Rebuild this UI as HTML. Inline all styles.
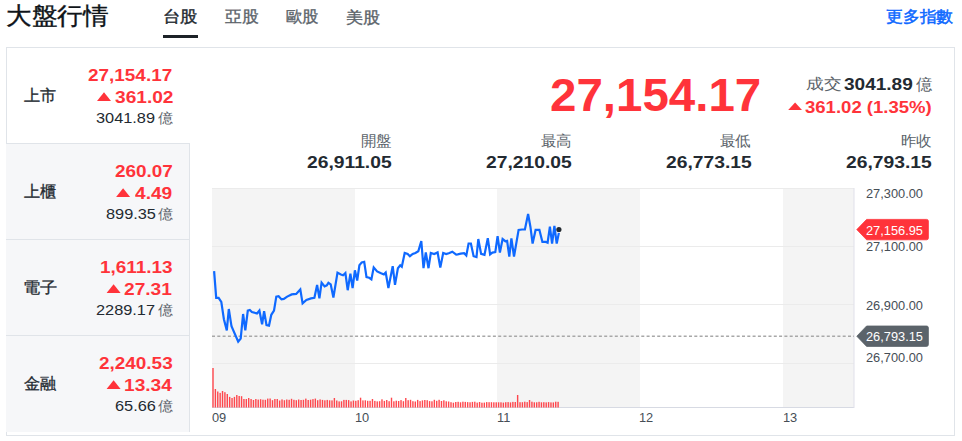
<!DOCTYPE html>
<html><head><meta charset="utf-8">
<style>
*{margin:0;padding:0;box-sizing:border-box}
html,body{width:962px;height:441px;background:#fff;overflow:hidden;font-family:"Liberation Sans",sans-serif;color:#232a31}
.t{position:absolute;white-space:nowrap;line-height:1;transform-origin:0 0}
.b{position:absolute}
</style></head><body>
<div class="b" style="left:163px;top:35px;width:35px;height:3px;background:#1d2228"></div>
<div class="b" style="left:6px;top:47px;width:949px;height:389px;border:1px solid #e0e4e9"></div>
<div class="b" style="left:6px;top:143px;width:184px;height:289px;background:#f6f7f9;border-top:1px solid #e0e4e9;border-right:1px solid #e0e4e9"></div>
<div class="b" style="left:6px;top:239px;width:183px;height:1px;background:#e0e4e9"></div>
<div class="b" style="left:6px;top:335px;width:183px;height:1px;background:#e0e4e9"></div>
<svg class="b" style="left:0;top:0" width="962" height="441" viewBox="0 0 962 441">
<g fill="#f4f4f4">
<rect x="212" y="188" width="143" height="219"/>
<rect x="497" y="188" width="143" height="219"/>
<rect x="783" y="188" width="71" height="219"/>
</g>
<g stroke="#ebebeb" stroke-width="1">
<line x1="212" y1="188.5" x2="854" y2="188.5"/>
<line x1="212" y1="246.5" x2="854" y2="246.5"/>
<line x1="212" y1="304.5" x2="854" y2="304.5"/>
<line x1="212" y1="363.5" x2="854" y2="363.5"/>
</g>
<line x1="212" y1="407.5" x2="854" y2="407.5" stroke="#d7dae3"/>
<line x1="854" y1="188" x2="854" y2="408" stroke="#e0e0ea"/>
<line x1="212" y1="336.2" x2="854" y2="336.2" stroke="#a8a8a8" stroke-width="1.4" stroke-dasharray="3,2.3"/>
<g fill="#ff333a" fill-opacity="0.9"><rect x="212.30" y="368.0" width="1.4" height="39.5"/><rect x="214.68" y="389.0" width="1.4" height="18.5"/><rect x="217.06" y="391.5" width="1.4" height="16.0"/><rect x="219.44" y="392.9" width="1.4" height="14.6"/><rect x="221.82" y="391.0" width="1.4" height="16.5"/><rect x="224.20" y="392.2" width="1.4" height="15.3"/><rect x="226.58" y="394.0" width="1.4" height="13.5"/><rect x="228.96" y="396.9" width="1.4" height="10.6"/><rect x="231.34" y="398.0" width="1.4" height="9.5"/><rect x="233.72" y="396.9" width="1.4" height="10.6"/><rect x="236.10" y="395.0" width="1.4" height="12.5"/><rect x="238.48" y="396.0" width="1.4" height="11.5"/><rect x="240.86" y="396.2" width="1.4" height="11.3"/><rect x="243.24" y="399.0" width="1.4" height="8.5"/><rect x="245.62" y="399.0" width="1.4" height="8.5"/><rect x="248.00" y="398.0" width="1.4" height="9.5"/><rect x="250.38" y="399.0" width="1.4" height="8.5"/><rect x="252.76" y="400.0" width="1.4" height="7.5"/><rect x="255.14" y="399.0" width="1.4" height="8.5"/><rect x="257.52" y="399.6" width="1.4" height="7.9"/><rect x="259.90" y="399.2" width="1.4" height="8.3"/><rect x="262.28" y="399.7" width="1.4" height="7.8"/><rect x="264.66" y="399.8" width="1.4" height="7.7"/><rect x="267.04" y="398.6" width="1.4" height="8.9"/><rect x="269.42" y="398.5" width="1.4" height="9.0"/><rect x="271.80" y="400.2" width="1.4" height="7.3"/><rect x="274.18" y="399.0" width="1.4" height="8.5"/><rect x="276.56" y="399.0" width="1.4" height="8.5"/><rect x="278.94" y="400.5" width="1.4" height="7.0"/><rect x="281.32" y="399.4" width="1.4" height="8.1"/><rect x="283.70" y="400.2" width="1.4" height="7.3"/><rect x="286.08" y="399.5" width="1.4" height="8.0"/><rect x="288.46" y="399.8" width="1.4" height="7.7"/><rect x="290.84" y="398.8" width="1.4" height="8.7"/><rect x="293.22" y="399.8" width="1.4" height="7.7"/><rect x="295.60" y="400.2" width="1.4" height="7.3"/><rect x="297.98" y="399.5" width="1.4" height="8.0"/><rect x="300.36" y="400.0" width="1.4" height="7.5"/><rect x="302.74" y="399.8" width="1.4" height="7.7"/><rect x="305.12" y="398.6" width="1.4" height="8.9"/><rect x="307.50" y="400.0" width="1.4" height="7.5"/><rect x="309.88" y="399.7" width="1.4" height="7.8"/><rect x="312.26" y="399.1" width="1.4" height="8.4"/><rect x="314.64" y="398.6" width="1.4" height="8.9"/><rect x="317.02" y="400.2" width="1.4" height="7.3"/><rect x="319.40" y="399.4" width="1.4" height="8.1"/><rect x="321.78" y="399.9" width="1.4" height="7.6"/><rect x="324.16" y="400.3" width="1.4" height="7.2"/><rect x="326.54" y="399.9" width="1.4" height="7.6"/><rect x="328.92" y="400.3" width="1.4" height="7.2"/><rect x="331.30" y="400.4" width="1.4" height="7.1"/><rect x="333.68" y="398.0" width="1.4" height="9.5"/><rect x="336.06" y="400.5" width="1.4" height="7.0"/><rect x="338.44" y="401.4" width="1.4" height="6.1"/><rect x="340.82" y="401.3" width="1.4" height="6.2"/><rect x="343.20" y="399.9" width="1.4" height="7.6"/><rect x="345.58" y="399.9" width="1.4" height="7.6"/><rect x="347.96" y="400.1" width="1.4" height="7.4"/><rect x="350.34" y="401.4" width="1.4" height="6.1"/><rect x="352.72" y="400.5" width="1.4" height="7.0"/><rect x="355.10" y="400.8" width="1.4" height="6.7"/><rect x="357.48" y="400.2" width="1.4" height="7.3"/><rect x="359.86" y="397.7" width="1.4" height="9.8"/><rect x="362.24" y="400.4" width="1.4" height="7.1"/><rect x="364.62" y="400.3" width="1.4" height="7.2"/><rect x="367.00" y="400.8" width="1.4" height="6.7"/><rect x="369.38" y="400.8" width="1.4" height="6.7"/><rect x="371.76" y="399.0" width="1.4" height="8.5"/><rect x="374.14" y="400.9" width="1.4" height="6.6"/><rect x="376.52" y="401.4" width="1.4" height="6.1"/><rect x="378.90" y="401.2" width="1.4" height="6.3"/><rect x="381.28" y="399.3" width="1.4" height="8.2"/><rect x="383.66" y="400.9" width="1.4" height="6.6"/><rect x="386.04" y="400.0" width="1.4" height="7.5"/><rect x="388.42" y="401.2" width="1.4" height="6.3"/><rect x="390.80" y="397.7" width="1.4" height="9.8"/><rect x="393.18" y="401.3" width="1.4" height="6.2"/><rect x="395.56" y="400.7" width="1.4" height="6.8"/><rect x="397.94" y="401.0" width="1.4" height="6.5"/><rect x="400.32" y="400.1" width="1.4" height="7.4"/><rect x="402.70" y="401.2" width="1.4" height="6.3"/><rect x="405.08" y="398.0" width="1.4" height="9.5"/><rect x="407.46" y="400.2" width="1.4" height="7.3"/><rect x="409.84" y="399.8" width="1.4" height="7.7"/><rect x="412.22" y="401.2" width="1.4" height="6.3"/><rect x="414.60" y="401.5" width="1.4" height="6.0"/><rect x="416.98" y="399.9" width="1.4" height="7.6"/><rect x="419.36" y="401.1" width="1.4" height="6.4"/><rect x="421.74" y="400.4" width="1.4" height="7.1"/><rect x="424.12" y="400.0" width="1.4" height="7.5"/><rect x="426.50" y="400.2" width="1.4" height="7.3"/><rect x="428.88" y="401.1" width="1.4" height="6.4"/><rect x="431.26" y="401.3" width="1.4" height="6.2"/><rect x="433.64" y="399.8" width="1.4" height="7.7"/><rect x="436.02" y="400.8" width="1.4" height="6.7"/><rect x="438.40" y="399.8" width="1.4" height="7.7"/><rect x="440.78" y="401.0" width="1.4" height="6.5"/><rect x="443.16" y="400.3" width="1.4" height="7.2"/><rect x="445.54" y="401.3" width="1.4" height="6.2"/><rect x="447.92" y="401.5" width="1.4" height="6.0"/><rect x="450.30" y="402.2" width="1.4" height="5.3"/><rect x="452.68" y="402.7" width="1.4" height="4.8"/><rect x="455.06" y="402.0" width="1.4" height="5.5"/><rect x="457.44" y="401.8" width="1.4" height="5.7"/><rect x="459.82" y="402.3" width="1.4" height="5.2"/><rect x="462.20" y="401.7" width="1.4" height="5.8"/><rect x="464.58" y="401.9" width="1.4" height="5.6"/><rect x="466.96" y="402.1" width="1.4" height="5.4"/><rect x="469.34" y="402.3" width="1.4" height="5.2"/><rect x="471.72" y="401.9" width="1.4" height="5.6"/><rect x="474.10" y="401.7" width="1.4" height="5.8"/><rect x="476.48" y="402.6" width="1.4" height="4.9"/><rect x="478.86" y="402.0" width="1.4" height="5.5"/><rect x="481.24" y="402.7" width="1.4" height="4.8"/><rect x="483.62" y="402.6" width="1.4" height="4.9"/><rect x="486.00" y="402.1" width="1.4" height="5.4"/><rect x="488.38" y="402.2" width="1.4" height="5.3"/><rect x="490.76" y="402.2" width="1.4" height="5.3"/><rect x="493.14" y="402.3" width="1.4" height="5.2"/><rect x="495.52" y="402.3" width="1.4" height="5.2"/><rect x="497.90" y="402.3" width="1.4" height="5.2"/><rect x="500.28" y="402.3" width="1.4" height="5.2"/><rect x="502.66" y="402.6" width="1.4" height="4.9"/><rect x="505.04" y="402.2" width="1.4" height="5.3"/><rect x="507.42" y="402.1" width="1.4" height="5.4"/><rect x="509.80" y="402.4" width="1.4" height="5.1"/><rect x="512.18" y="401.9" width="1.4" height="5.6"/><rect x="514.56" y="402.0" width="1.4" height="5.5"/><rect x="516.94" y="395.0" width="1.4" height="12.5"/><rect x="519.32" y="402.2" width="1.4" height="5.3"/><rect x="521.70" y="402.2" width="1.4" height="5.3"/><rect x="524.08" y="401.7" width="1.4" height="5.8"/><rect x="526.46" y="402.1" width="1.4" height="5.4"/><rect x="528.84" y="400.0" width="1.4" height="7.5"/><rect x="531.22" y="401.7" width="1.4" height="5.8"/><rect x="533.60" y="402.3" width="1.4" height="5.2"/><rect x="535.98" y="402.3" width="1.4" height="5.2"/><rect x="538.36" y="401.8" width="1.4" height="5.7"/><rect x="540.74" y="402.3" width="1.4" height="5.2"/><rect x="543.12" y="402.2" width="1.4" height="5.3"/><rect x="545.50" y="402.4" width="1.4" height="5.1"/><rect x="547.88" y="402.1" width="1.4" height="5.4"/><rect x="550.26" y="402.4" width="1.4" height="5.1"/><rect x="552.64" y="402.4" width="1.4" height="5.1"/><rect x="555.02" y="401.7" width="1.4" height="5.8"/><rect x="557.40" y="401.8" width="1.4" height="5.7"/></g>
<path d="M214.1,271.2 L216.2,297.8 L218.6,297.8 L221.3,301.8 L223.9,319.2 L226.8,330.4 L228.8,309.0 L231.5,326.3 L238.2,341.6 L240.7,338.6 L243.1,314.0 L245.3,330.4 L247.8,310.6 L249.8,310.0 L251.9,312.0 L257.0,313.5 L259.4,310.6 L262.1,324.3 L264.1,311.2 L266.5,325.1 L269.0,325.6 L271.3,314.8 L274.0,310.7 L276.3,296.6 L278.6,296.2 L281.5,299.4 L283.8,298.9 L287.2,296.6 L291.7,294.4 L296.2,293.9 L300.3,289.4 L302.6,303.4 L306.4,300.0 L311.0,298.4 L314.4,297.8 L317.1,284.9 L319.4,298.4 L321.6,282.6 L324.6,286.4 L326.8,285.3 L328.4,282.8 L330.7,284.4 L333.4,297.5 L337.5,272.6 L340.9,274.4 L343.1,275.3 L345.4,273.0 L347.7,290.2 L350.4,273.7 L352.6,288.0 L354.9,270.3 L357.2,280.5 L359.4,265.3 L361.7,262.4 L364.2,261.9 L366.5,277.1 L369.2,277.8 L371.4,279.4 L373.7,267.4 L377.1,271.4 L380.5,273.0 L383.9,274.4 L385.7,272.6 L388.4,288.0 L392.7,266.2 L395.0,284.8 L397.9,268.2 L400.2,265.3 L401.8,266.7 L404.7,253.0 L407.7,254.0 L409.9,256.2 L412.7,254.0 L415.4,253.0 L418.3,251.2 L421.3,241.0 L423.5,268.2 L425.8,252.4 L428.5,268.2 L430.8,253.0 L434.2,254.0 L437.6,252.4 L440.3,267.6 L443.2,253.0 L446.2,254.0 L449.4,253.0 L452.3,251.7 L456.2,254.6 L457.7,254.4 L460.7,253.7 L464.1,253.2 L466.3,255.5 L468.6,243.5 L470.9,243.5 L473.6,256.2 L476.5,257.1 L478.3,239.0 L481.1,253.9 L484.5,254.8 L487.8,238.1 L490.1,254.4 L492.4,252.6 L495.3,252.1 L497.6,236.2 L499.9,252.6 L502.6,239.0 L505.3,241.2 L507.1,240.8 L509.3,256.6 L511.4,238.3 L514.0,256.6 L518.6,229.9 L522.0,229.5 L524.9,229.5 L528.1,214.0 L530.4,226.7 L532.6,243.5 L535.6,229.9 L539.4,229.9 L542.4,241.9 L545.8,241.9 L547.6,242.6 L549.9,226.7 L552.1,243.5 L554.4,226.0 L556.7,243.5 L558.9,232.9" fill="none" stroke="#0f69ff" stroke-width="2.2" stroke-linejoin="miter" stroke-miterlimit="3"/>
<circle cx="558.9" cy="229.5" r="2.6" fill="#232a31"/>
<path d="M856.8,229.6 L866.6,219.4 L926.6,219.4 Q928.4,219.4 928.4,221.2 L928.4,238 Q928.4,239.8 926.6,239.8 L866.6,239.8 Z" fill="#ff333a" stroke="#ff333a" stroke-width="0.8" stroke-linejoin="round"/>
<path d="M856.8,336.2 L866.6,326 L926.6,326 Q928.4,326 928.4,327.8 L928.4,344.6 Q928.4,346.4 926.6,346.4 L866.6,346.4 Z" fill="#5b636a" stroke="#5b636a" stroke-width="0.8" stroke-linejoin="round"/>
<g fill="#ff333a">
<path d="M97.0,101 L104.0,92.2 L111.0,101 Z"/><path d="M116.1,197 L123.1,188.2 L130.1,197 Z"/><path d="M106.6,293 L113.6,284.2 L120.6,293 Z"/><path d="M106.6,389 L113.6,380.2 L120.6,389 Z"/>
<path d="M788.2,110.1 L795.1,102.5 L802,110.1 Z"/>
</g>
</svg>
<div class="t" style="left:5.93px;top:3.70px;font-size:24px;font-weight:400;color:#0f1419;-webkit-text-stroke:0.35px #0f1419;transform:scaleX(1.0684)">大盤行情</div>
<div class="t" style="left:162.62px;top:9.40px;font-size:16px;font-weight:400;color:#232a31;-webkit-text-stroke:0.4px #232a31;transform:scaleX(1.0833)">台股</div>
<div class="t" style="left:225.00px;top:9.40px;font-size:16px;font-weight:400;color:#5b636a;-webkit-text-stroke:0.35px #5b636a;transform:scaleX(1.0484)">亞股</div>
<div class="t" style="left:286.20px;top:9.40px;font-size:16px;font-weight:400;color:#5b636a;-webkit-text-stroke:0.35px #5b636a;transform:scaleX(1.0258)">歐股</div>
<div class="t" style="left:345.83px;top:10.40px;font-size:16px;font-weight:400;color:#5b636a;-webkit-text-stroke:0.35px #5b636a;transform:scaleX(1.0700)">美股</div>
<div class="t" style="left:885.70px;top:8.70px;font-size:16px;font-weight:400;color:#0f69ff;-webkit-text-stroke:0.5px #0f69ff;transform:scaleX(1.0516)">更多指數</div>
<div class="t" style="left:23.70px;top:87.90px;font-size:16px;font-weight:400;color:#232a31;-webkit-text-stroke:0.3px #232a31;transform:scaleX(1.0125)">上市</div>
<div class="t" style="left:88.02px;top:67.90px;font-size:16px;font-weight:700;color:#ff333a;transform:scaleX(1.1829)">27,154.17</div>
<div class="t" style="left:114.60px;top:89.80px;font-size:16px;font-weight:700;color:#ff333a;transform:scaleX(1.1957)">361.02</div>
<div class="t" style="left:96.11px;top:110.10px;font-size:15px;font-weight:400;color:#232a31;transform:scaleX(1.0887)">3041.89</div>
<div class="t" style="left:158.03px;top:111.20px;font-size:14px;font-weight:400;color:#5b636a;transform:scaleX(1.0750)">億</div>
<div class="t" style="left:23.70px;top:183.90px;font-size:16px;font-weight:400;color:#232a31;-webkit-text-stroke:0.3px #232a31;transform:scaleX(1.0125)">上櫃</div>
<div class="t" style="left:115.22px;top:163.90px;font-size:16px;font-weight:700;color:#ff333a;transform:scaleX(1.1829)">260.07</div>
<div class="t" style="left:134.93px;top:185.80px;font-size:16px;font-weight:700;color:#ff333a;transform:scaleX(1.1957)">4.49</div>
<div class="t" style="left:105.91px;top:206.10px;font-size:15px;font-weight:400;color:#232a31;transform:scaleX(1.0887)">899.35</div>
<div class="t" style="left:158.03px;top:207.20px;font-size:14px;font-weight:400;color:#5b636a;transform:scaleX(1.0750)">億</div>
<div class="t" style="left:22.62px;top:279.90px;font-size:16px;font-weight:400;color:#232a31;-webkit-text-stroke:0.3px #232a31;transform:scaleX(1.0800)">電子</div>
<div class="t" style="left:99.85px;top:259.90px;font-size:16px;font-weight:700;color:#ff333a;transform:scaleX(1.1829)">1,611.13</div>
<div class="t" style="left:124.17px;top:281.80px;font-size:16px;font-weight:700;color:#ff333a;transform:scaleX(1.1957)">27.31</div>
<div class="t" style="left:96.11px;top:302.10px;font-size:15px;font-weight:400;color:#232a31;transform:scaleX(1.0887)">2289.17</div>
<div class="t" style="left:158.03px;top:303.20px;font-size:14px;font-weight:400;color:#5b636a;transform:scaleX(1.0750)">億</div>
<div class="t" style="left:23.70px;top:375.90px;font-size:16px;font-weight:400;color:#232a31;-webkit-text-stroke:0.3px #232a31;transform:scaleX(1.0125)">金融</div>
<div class="t" style="left:98.66px;top:355.90px;font-size:16px;font-weight:700;color:#ff333a;transform:scaleX(1.1829)">2,240.53</div>
<div class="t" style="left:124.17px;top:377.80px;font-size:16px;font-weight:700;color:#ff333a;transform:scaleX(1.1957)">13.34</div>
<div class="t" style="left:114.62px;top:398.10px;font-size:15px;font-weight:400;color:#232a31;transform:scaleX(1.0887)">65.66</div>
<div class="t" style="left:158.03px;top:399.20px;font-size:14px;font-weight:400;color:#5b636a;transform:scaleX(1.0750)">億</div>
<div class="t" style="left:549.84px;top:72.00px;font-size:46px;font-weight:700;color:#ff333a;transform:scaleX(1.0323)">27,154.17</div>
<div class="t" style="left:805.82px;top:76.30px;font-size:15px;font-weight:400;color:#5b636a;transform:scaleX(1.1786)">成交</div>
<div class="t" style="left:843.61px;top:77.00px;font-size:16px;font-weight:700;color:#232a31;transform:scaleX(1.1893)">3041.89</div>
<div class="t" style="left:915.70px;top:77.00px;font-size:16px;font-weight:400;color:#5b636a;transform:scaleX(1.0200)">億</div>
<div class="t" style="left:805.14px;top:99.50px;font-size:16px;font-weight:700;color:#ff333a;transform:scaleX(1.1583)">361.02 (1.35%)</div>
<div class="t" style="left:360.77px;top:133.00px;font-size:15px;font-weight:400;color:#5b636a;transform:scaleX(1.0321)">開盤</div>
<div class="t" style="left:306.87px;top:153.60px;font-size:17px;font-weight:700;color:#232a31;transform:scaleX(1.1329)">26,911.05</div>
<div class="t" style="left:540.77px;top:133.00px;font-size:15px;font-weight:400;color:#5b636a;transform:scaleX(1.0321)">最高</div>
<div class="t" style="left:485.73px;top:153.60px;font-size:17px;font-weight:700;color:#232a31;transform:scaleX(1.1329)">27,210.05</div>
<div class="t" style="left:719.74px;top:133.00px;font-size:15px;font-weight:400;color:#5b636a;transform:scaleX(1.0321)">最低</div>
<div class="t" style="left:665.73px;top:153.60px;font-size:17px;font-weight:700;color:#232a31;transform:scaleX(1.1329)">26,773.15</div>
<div class="t" style="left:901.07px;top:133.00px;font-size:15px;font-weight:400;color:#5b636a;transform:scaleX(1.0321)">昨收</div>
<div class="t" style="left:846.03px;top:153.60px;font-size:17px;font-weight:700;color:#232a31;transform:scaleX(1.1329)">26,793.15</div>
<div class="t" style="left:865.63px;top:188.40px;font-size:12px;font-weight:400;color:#464e56;transform:scaleX(1.0673)">27,300.00</div>
<div class="t" style="left:865.63px;top:240.80px;font-size:12px;font-weight:400;color:#464e56;transform:scaleX(1.0673)">27,100.00</div>
<div class="t" style="left:865.63px;top:300.00px;font-size:12px;font-weight:400;color:#464e56;transform:scaleX(1.0673)">26,900.00</div>
<div class="t" style="left:865.63px;top:352.40px;font-size:12px;font-weight:400;color:#464e56;transform:scaleX(1.0673)">26,700.00</div>
<div class="t" style="left:212.30px;top:412.10px;font-size:12px;font-weight:400;color:#464e56;transform:scaleX(1.0673)">09</div>
<div class="t" style="left:354.83px;top:412.10px;font-size:12px;font-weight:400;color:#464e56;transform:scaleX(1.0673)">10</div>
<div class="t" style="left:497.03px;top:412.10px;font-size:12px;font-weight:400;color:#464e56;transform:scaleX(1.0673)">11</div>
<div class="t" style="left:639.33px;top:412.10px;font-size:12px;font-weight:400;color:#464e56;transform:scaleX(1.0673)">12</div>
<div class="t" style="left:782.53px;top:412.10px;font-size:12px;font-weight:400;color:#464e56;transform:scaleX(1.0673)">13</div>
<div class="t" style="left:865.63px;top:224.50px;font-size:12px;font-weight:400;color:#ffffff;transform:scaleX(1.0673)">27,156.95</div>
<div class="t" style="left:865.63px;top:330.80px;font-size:12px;font-weight:400;color:#ffffff;transform:scaleX(1.0673)">26,793.15</div>
</body></html>
